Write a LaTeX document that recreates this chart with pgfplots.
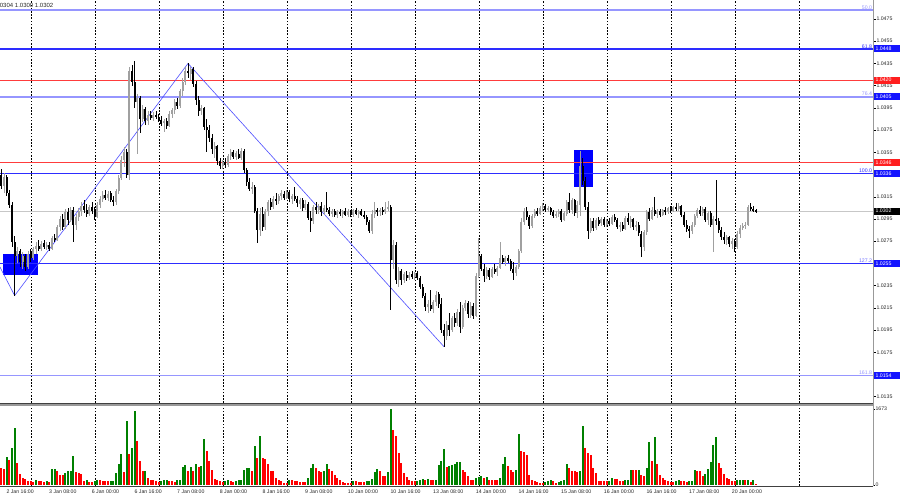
\documentclass[border=0pt]{standalone}
\usepackage{fontspec}
\setmainfont{Liberation Sans}
\usepackage{pgfplots}
\usepackage{pgfplotstable}
\pgfplotsset{compat=1.18}
\newcommand{\lab}{\fontsize{5.2}{6}\selectfont}
\definecolor{levblue}{RGB}{45,45,255}
\definecolor{fiblight}{RGB}{150,150,255}
\definecolor{lvlred}{RGB}{255,60,60}
\definecolor{bullc}{RGB}{160,160,160}
\definecolor{vgreen}{RGB}{0,128,0}
\definecolor{vred}{RGB}{255,0,0}
\definecolor{boxblue}{RGB}{20,20,255}
\definecolor{boxred}{RGB}{255,30,30}

\pgfplotstableread{
i o h l c v g
0 1.0335 1.0340 1.0322 1.0325 368 0
1 1.0325 1.0336 1.0318 1.0333 354 0
2 1.0333 1.0335 1.0316 1.0318 626 1
3 1.0318 1.0321 1.0305 1.0308 553 0
4 1.0308 1.0310 1.0270 1.0274 811 1
5 1.0274 1.0280 1.0226 1.0262 1253 1
6 1.0262 1.0270 1.0255 1.0266 479 0
7 1.0266 1.0268 1.0252 1.0256 243 0
8 1.0256 1.0265 1.0250 1.0262 147 0
9 1.0262 1.0264 1.0248 1.0252 125 0
10 1.0252 1.0266 1.0250 1.0264 88 0
11 1.0264 1.0268 1.0256 1.0260 81 0
12 1.0260 1.0270 1.0258 1.0268 59 0
13 1.0268 1.0274 1.0264 1.0271 103 1
14 1.0271 1.0276 1.0266 1.0268 96 0
15 1.0268 1.0275 1.0266 1.0273 88 0
16 1.0273 1.0276 1.0268 1.0270 74 0
17 1.0270 1.0274 1.0267 1.0272 88 1
18 1.0272 1.0274 1.0266 1.0268 74 0
19 1.0268 1.0280 1.0267 1.0278 346 1
20 1.0278 1.0282 1.0274 1.0276 350 1
21 1.0276 1.0290 1.0275 1.0288 310 0
22 1.0288 1.0298 1.0284 1.0295 221 0
23 1.0295 1.0300 1.0285 1.0288 215 0
24 1.0288 1.0304 1.0286 1.0301 273 1
25 1.0301 1.0305 1.0290 1.0294 310 1
26 1.0294 1.0306 1.0292 1.0303 315 1
27 1.0303 1.0306 1.0274 1.0290 641 1
28 1.0290 1.0300 1.0285 1.0297 295 0
29 1.0297 1.0305 1.0293 1.0302 258 0
30 1.0302 1.0310 1.0298 1.0307 250 0
31 1.0307 1.0312 1.0300 1.0303 88 0
32 1.0303 1.0309 1.0297 1.0300 103 1
33 1.0300 1.0308 1.0298 1.0306 74 0
34 1.0306 1.0310 1.0300 1.0302 70 0
35 1.0302 1.0306 1.0294 1.0297 96 1
36 1.0297 1.0310 1.0296 1.0308 103 1
37 1.0308 1.0316 1.0305 1.0313 100 0
38 1.0313 1.0320 1.0310 1.0317 96 0
39 1.0317 1.0321 1.0312 1.0314 88 0
40 1.0314 1.0320 1.0311 1.0318 81 0
41 1.0318 1.0320 1.0310 1.0312 88 1
42 1.0312 1.0316 1.0307 1.0310 92 1
43 1.0310 1.0322 1.0308 1.0320 258 1
44 1.0320 1.0335 1.0318 1.0332 457 1
45 1.0332 1.0352 1.0330 1.0348 678 1
46 1.0348 1.0360 1.0342 1.0355 295 0
47 1.0355 1.0358 1.0332 1.0335 1400 1
48 1.0335 1.0432 1.0330 1.0428 678 0
49 1.0428 1.0434 1.0415 1.0418 811 1
50 1.0418 1.0437 1.0395 1.0400 1636 1
51 1.0400 1.0408 1.0354 1.0404 958 0
52 1.0404 1.0406 1.0372 1.0385 531 0
53 1.0385 1.0398 1.0382 1.0394 310 0
54 1.0394 1.0396 1.0380 1.0383 317 1
55 1.0383 1.0392 1.0380 1.0389 147 0
56 1.0389 1.0392 1.0384 1.0386 111 0
57 1.0386 1.0391 1.0383 1.0389 108 0
58 1.0389 1.0392 1.0385 1.0387 80 0
59 1.0387 1.0390 1.0382 1.0384 74 0
60 1.0384 1.0388 1.0379 1.0381 96 1
61 1.0381 1.0385 1.0373 1.0383 103 1
62 1.0383 1.0386 1.0376 1.0379 105 1
63 1.0379 1.0392 1.0378 1.0390 88 0
64 1.0390 1.0395 1.0386 1.0393 85 0
65 1.0393 1.0403 1.0390 1.0400 74 0
66 1.0400 1.0404 1.0394 1.0397 103 1
67 1.0397 1.0412 1.0395 1.0410 108 1
68 1.0410 1.0422 1.0406 1.0418 391 1
69 1.0418 1.0432 1.0416 1.0428 435 1
70 1.0428 1.0435 1.0422 1.0426 317 0
71 1.0426 1.0432 1.0420 1.0430 391 1
72 1.0430 1.0432 1.0414 1.0417 310 0
73 1.0417 1.0419 1.0398 1.0402 464 1
74 1.0402 1.0406 1.0388 1.0392 405 0
75 1.0392 1.0398 1.0389 1.0395 413 1
76 1.0395 1.0396 1.0375 1.0378 1010 1
77 1.0378 1.0385 1.0355 1.0375 752 0
78 1.0375 1.0380 1.0364 1.0368 531 0
79 1.0368 1.0372 1.0354 1.0358 332 0
80 1.0358 1.0364 1.0350 1.0361 133 0
81 1.0361 1.0362 1.0344 1.0347 111 0
82 1.0347 1.0350 1.0340 1.0343 81 0
83 1.0343 1.0348 1.0340 1.0346 66 0
84 1.0346 1.0350 1.0341 1.0344 96 1
85 1.0344 1.0354 1.0342 1.0352 103 1
86 1.0352 1.0358 1.0348 1.0355 81 0
87 1.0355 1.0357 1.0349 1.0351 74 0
88 1.0351 1.0356 1.0348 1.0354 88 1
89 1.0354 1.0358 1.0349 1.0350 111 1
90 1.0350 1.0359 1.0348 1.0356 115 1
91 1.0356 1.0358 1.0336 1.0339 332 1
92 1.0339 1.0341 1.0325 1.0328 376 1
93 1.0328 1.0332 1.0320 1.0322 380 1
94 1.0322 1.0328 1.0318 1.0324 310 0
95 1.0324 1.0326 1.0300 1.0302 862 1
96 1.0302 1.0305 1.0273 1.0285 590 0
97 1.0285 1.0305 1.0280 1.0300 1083 1
98 1.0300 1.0306 1.0284 1.0288 590 0
99 1.0288 1.0304 1.0285 1.0302 567 0
100 1.0302 1.0312 1.0298 1.0310 457 0
101 1.0310 1.0314 1.0303 1.0306 310 0
102 1.0306 1.0316 1.0304 1.0313 300 0
103 1.0313 1.0318 1.0308 1.0311 162 0
104 1.0311 1.0318 1.0309 1.0316 111 0
105 1.0316 1.0321 1.0312 1.0318 88 0
106 1.0318 1.0320 1.0312 1.0314 52 0
107 1.0314 1.0321 1.0313 1.0319 44 0
108 1.0319 1.0321 1.0310 1.0313 111 1
109 1.0313 1.0318 1.0309 1.0316 103 0
110 1.0316 1.0324 1.0311 1.0313 88 0
111 1.0313 1.0316 1.0306 1.0309 85 0
112 1.0309 1.0314 1.0304 1.0312 74 0
113 1.0312 1.0314 1.0302 1.0305 70 0
114 1.0305 1.0312 1.0303 1.0309 66 0
115 1.0309 1.0310 1.0294 1.0296 147 1
116 1.0296 1.0302 1.0283 1.0293 383 1
117 1.0293 1.0308 1.0291 1.0306 457 1
118 1.0306 1.0310 1.0300 1.0303 383 0
119 1.0303 1.0309 1.0300 1.0307 310 0
120 1.0307 1.0310 1.0298 1.0301 295 0
121 1.0301 1.0308 1.0299 1.0305 310 1
122 1.0305 1.0319 1.0301 1.0303 457 1
123 1.0303 1.0306 1.0298 1.0300 346 0
124 1.0300 1.0304 1.0297 1.0302 310 0
125 1.0302 1.0304 1.0297 1.0299 221 0
126 1.0299 1.0303 1.0296 1.0301 162 0
127 1.0301 1.0304 1.0298 1.0300 111 0
128 1.0300 1.0303 1.0296 1.0302 66 0
129 1.0302 1.0305 1.0298 1.0299 52 0
130 1.0299 1.0304 1.0297 1.0302 50 0
131 1.0302 1.0303 1.0297 1.0299 48 0
132 1.0299 1.0304 1.0297 1.0303 96 1
133 1.0303 1.0305 1.0299 1.0300 81 0
134 1.0300 1.0303 1.0296 1.0302 74 0
135 1.0302 1.0304 1.0298 1.0299 72 0
136 1.0299 1.0302 1.0295 1.0297 70 0
137 1.0297 1.0299 1.0290 1.0292 88 1
138 1.0292 1.0294 1.0282 1.0284 96 1
139 1.0284 1.0303 1.0282 1.0300 125 1
140 1.0300 1.0310 1.0296 1.0303 280 1
141 1.0303 1.0305 1.0298 1.0301 354 1
142 1.0301 1.0305 1.0298 1.0303 310 0
143 1.0303 1.0306 1.0299 1.0301 199 0
144 1.0301 1.0310 1.0300 1.0304 195 0
145 1.0304 1.0311 1.0302 1.0306 280 1
146 1.0306 1.0308 1.0213 1.0258 1673 1
147 1.0258 1.0276 1.0250 1.0272 1216 0
148 1.0272 1.0274 1.0236 1.0240 1069 0
149 1.0240 1.0252 1.0234 1.0248 700 0
150 1.0248 1.0250 1.0236 1.0240 494 0
151 1.0240 1.0247 1.0237 1.0245 273 0
152 1.0245 1.0248 1.0239 1.0242 170 0
153 1.0242 1.0247 1.0240 1.0245 111 0
154 1.0245 1.0248 1.0241 1.0243 88 0
155 1.0243 1.0247 1.0240 1.0246 85 0
156 1.0246 1.0248 1.0240 1.0242 96 1
157 1.0242 1.0244 1.0232 1.0234 103 1
158 1.0234 1.0236 1.0224 1.0226 125 1
159 1.0226 1.0228 1.0212 1.0216 111 0
160 1.0216 1.0222 1.0210 1.0218 125 1
161 1.0218 1.0231 1.0212 1.0214 111 0
162 1.0214 1.0222 1.0210 1.0220 108 0
163 1.0220 1.0230 1.0217 1.0227 115 1
164 1.0227 1.0229 1.0215 1.0218 442 1
165 1.0218 1.0224 1.0192 1.0195 538 1
166 1.0195 1.0200 1.0180 1.0190 789 1
167 1.0190 1.0203 1.0186 1.0200 405 0
168 1.0200 1.0210 1.0190 1.0195 420 1
169 1.0195 1.0208 1.0193 1.0206 435 1
170 1.0206 1.0210 1.0198 1.0201 457 1
171 1.0201 1.0214 1.0199 1.0211 509 1
172 1.0211 1.0220 1.0192 1.0198 515 1
173 1.0198 1.0218 1.0196 1.0215 332 0
174 1.0215 1.0222 1.0212 1.0219 295 0
175 1.0219 1.0221 1.0206 1.0209 199 0
176 1.0209 1.0220 1.0206 1.0217 103 0
177 1.0217 1.0219 1.0205 1.0208 100 0
178 1.0208 1.0246 1.0207 1.0244 162 1
179 1.0244 1.0278 1.0242 1.0262 170 1
180 1.0262 1.0264 1.0248 1.0250 199 1
181 1.0250 1.0254 1.0238 1.0244 147 0
182 1.0244 1.0252 1.0241 1.0249 184 1
183 1.0249 1.0251 1.0240 1.0243 111 0
184 1.0243 1.0252 1.0242 1.0250 108 0
185 1.0250 1.0254 1.0245 1.0247 105 0
186 1.0247 1.0253 1.0244 1.0251 102 0
187 1.0251 1.0274 1.0250 1.0260 147 1
188 1.0260 1.0263 1.0254 1.0256 464 1
189 1.0256 1.0262 1.0253 1.0260 612 1
190 1.0260 1.0263 1.0255 1.0257 420 0
191 1.0257 1.0259 1.0248 1.0250 332 0
192 1.0250 1.0256 1.0240 1.0246 295 0
193 1.0246 1.0254 1.0244 1.0252 332 1
194 1.0252 1.0268 1.0250 1.0266 1120 1
195 1.0266 1.0296 1.0264 1.0292 752 0
196 1.0292 1.0305 1.0290 1.0302 737 0
197 1.0302 1.0306 1.0294 1.0297 663 0
198 1.0297 1.0299 1.0286 1.0289 221 0
199 1.0289 1.0300 1.0287 1.0298 111 0
200 1.0298 1.0304 1.0296 1.0302 88 0
201 1.0302 1.0305 1.0298 1.0300 74 0
202 1.0300 1.0307 1.0299 1.0305 52 0
203 1.0305 1.0309 1.0302 1.0307 37 0
204 1.0307 1.0309 1.0301 1.0303 74 1
205 1.0303 1.0307 1.0301 1.0305 88 1
206 1.0305 1.0306 1.0299 1.0301 111 1
207 1.0301 1.0303 1.0296 1.0298 88 0
208 1.0298 1.0302 1.0296 1.0300 52 0
209 1.0300 1.0304 1.0297 1.0302 74 1
210 1.0302 1.0304 1.0292 1.0294 96 1
211 1.0294 1.0302 1.0293 1.0300 111 1
212 1.0300 1.0312 1.0298 1.0310 464 1
213 1.0310 1.0318 1.0300 1.0303 383 0
214 1.0303 1.0314 1.0300 1.0312 317 0
215 1.0312 1.0313 1.0298 1.0300 310 0
216 1.0300 1.0311 1.0296 1.0308 295 0
217 1.0308 1.0356 1.0298 1.0343 300 1
218 1.0343 1.0350 1.0326 1.0329 1304 1
219 1.0329 1.0333 1.0303 1.0306 811 0
220 1.0306 1.0310 1.0277 1.0284 715 0
221 1.0284 1.0296 1.0282 1.0293 663 0
222 1.0293 1.0296 1.0284 1.0287 368 0
223 1.0287 1.0296 1.0285 1.0294 258 0
224 1.0294 1.0297 1.0289 1.0291 88 0
225 1.0291 1.0297 1.0289 1.0295 85 0
226 1.0295 1.0297 1.0288 1.0290 82 0
227 1.0290 1.0295 1.0288 1.0293 80 0
228 1.0293 1.0296 1.0289 1.0291 88 1
229 1.0291 1.0299 1.0290 1.0297 147 1
230 1.0297 1.0300 1.0292 1.0294 133 0
231 1.0294 1.0296 1.0286 1.0288 125 0
232 1.0288 1.0292 1.0283 1.0290 96 0
233 1.0290 1.0292 1.0284 1.0286 94 0
234 1.0286 1.0298 1.0285 1.0296 111 1
235 1.0296 1.0300 1.0290 1.0292 113 1
236 1.0292 1.0298 1.0287 1.0295 332 1
237 1.0295 1.0296 1.0285 1.0288 330 0
238 1.0288 1.0293 1.0284 1.0290 328 0
239 1.0290 1.0292 1.0280 1.0282 335 1
240 1.0282 1.0284 1.0261 1.0270 221 0
241 1.0270 1.0285 1.0266 1.0283 199 0
242 1.0283 1.0303 1.0281 1.0301 368 1
243 1.0301 1.0305 1.0293 1.0295 943 1
244 1.0295 1.0306 1.0294 1.0303 531 0
245 1.0303 1.0315 1.0298 1.0300 1047 1
246 1.0300 1.0304 1.0296 1.0302 457 0
247 1.0302 1.0304 1.0297 1.0299 221 0
248 1.0299 1.0304 1.0298 1.0303 147 0
249 1.0303 1.0306 1.0299 1.0301 111 0
250 1.0301 1.0306 1.0300 1.0305 88 0
251 1.0305 1.0307 1.0300 1.0302 74 0
252 1.0302 1.0307 1.0301 1.0306 72 0
253 1.0306 1.0309 1.0302 1.0304 96 1
254 1.0304 1.0309 1.0302 1.0307 111 1
255 1.0307 1.0308 1.0297 1.0299 96 0
256 1.0299 1.0301 1.0288 1.0290 88 0
257 1.0290 1.0294 1.0283 1.0286 74 0
258 1.0286 1.0289 1.0278 1.0284 88 1
259 1.0284 1.0292 1.0282 1.0290 90 1
260 1.0290 1.0300 1.0288 1.0298 332 1
261 1.0298 1.0305 1.0296 1.0303 317 0
262 1.0303 1.0307 1.0298 1.0300 315 0
263 1.0300 1.0306 1.0298 1.0304 199 0
264 1.0304 1.0306 1.0292 1.0294 243 1
265 1.0294 1.0302 1.0290 1.0300 346 1
266 1.0300 1.0302 1.0288 1.0290 516 1
267 1.0290 1.0298 1.0265 1.0295 884 1
268 1.0295 1.0330 1.0290 1.0293 1047 1
269 1.0293 1.0296 1.0282 1.0285 494 0
270 1.0285 1.0288 1.0276 1.0279 383 0
271 1.0279 1.0283 1.0273 1.0276 243 0
272 1.0276 1.0281 1.0272 1.0279 147 0
273 1.0279 1.0280 1.0270 1.0273 125 0
274 1.0273 1.0278 1.0268 1.0275 88 0
275 1.0275 1.0277 1.0265 1.0270 86 0
276 1.0270 1.0284 1.0268 1.0282 103 1
277 1.0282 1.0290 1.0278 1.0287 111 1
278 1.0287 1.0291 1.0285 1.0289 113 1
279 1.0289 1.0292 1.0286 1.0290 103 0
280 1.0290 1.0308 1.0289 1.0306 111 1
281 1.0306 1.0309 1.0302 1.0304 74 0
282 1.0304 1.0307 1.0301 1.0303 111 1
283 1.0303 1.0304 1.0300 1.0302 22 0
}\data

\begin{document}
\begin{tikzpicture}[x=1pt,y=1pt]
% ---------------- main price panel ----------------
\begin{scope}[yshift=97pt]
\begin{axis}[
  at={(0,0)}, anchor=south west, scale only axis,
  width=873pt, height=403pt,
  xmin=-0.5, xmax=326.875, ymin=1.012933, ymax=1.049210,
  axis line style={draw=none},
  xtick={11.125,35.125,59.125,83.125,107.125,131.125,155.125,179.125,203.125,227.125,251.125,275.125,299.125},
  xticklabels={}, xtick style={draw=none},
  xmajorgrids,
  major grid style={black, line width=0.45pt, dash pattern=on 1.6pt off 1.6pt},
  ytick={1.0135,1.0155,1.0175,1.0195,1.0215,1.0235,1.0255,1.0275,1.0295,1.0315,1.0335,1.0355,1.0375,1.0395,1.0415,1.0435,1.0455,1.0475},
  yticklabels={1.0135,1.0155,1.0175,1.0195,1.0215,1.0235,1.0255,1.0275,1.0295,1.0315,1.0335,1.0355,1.0375,1.0395,1.0415,1.0435,1.0455,1.0475},
  ytick pos=right, yticklabel pos=right,
  tick align=outside, major tick length=2.5pt,
  ytick style={black, line width=0.4pt},
  yticklabel style={font=\lab, inner sep=0.8pt, text=black!85},
  scaled y ticks=false,
]
% blue rectangles
\addplot[fill=blue, draw=none, forget plot] coordinates {(0.75,1.02446) (13.9,1.02446) (13.9,1.02635) (0.75,1.02635)} -- cycle;
\addplot[fill=blue, draw=none, forget plot] coordinates {(214.75,1.0324) (221.75,1.0324) (221.75,1.0357) (214.75,1.0357)} -- cycle;
% horizontal levels
\addplot[draw=fiblight, line width=1.6pt, forget plot] coordinates {(-0.5,1.0483) (326.875,1.0483)};
\addplot[draw=levblue, line width=1.1pt, forget plot] coordinates {(-0.5,1.0448) (326.875,1.0448)};
\addplot[draw=lvlred, line width=0.9pt, forget plot] coordinates {(-0.5,1.0420) (326.875,1.0420)};
\addplot[draw=fiblight, line width=1.6pt, forget plot] coordinates {(-0.5,1.0405) (326.875,1.0405)};
\addplot[draw=lvlred, line width=0.9pt, forget plot] coordinates {(-0.5,1.0346) (326.875,1.0346)};
\addplot[draw=levblue, line width=1.1pt, forget plot] coordinates {(-0.5,1.0336) (326.875,1.0336)};
\addplot[draw=black!22, line width=0.8pt, forget plot] coordinates {(-0.5,1.0302) (326.875,1.0302)};
\addplot[draw=levblue, line width=1.1pt, forget plot] coordinates {(-0.5,1.0255) (326.875,1.0255)};
\addplot[draw=fiblight, line width=1.6pt, forget plot] coordinates {(-0.5,1.0154) (326.875,1.0154)};
% zigzag
\addplot[draw=levblue!85, line width=0.6pt, forget plot] coordinates {(-0.5,1.02517) (5,1.0226) (70,1.0435) (166,1.0180)};
% candles: bull (grey)
\addplot[draw=none, mark=none, forget plot,
  restrict expr to domain={\thisrow{c}-\thisrow{o}}{0:1},
  error bars/.cd, y dir=both, y explicit, error mark=none,
  error bar style={draw=bullc, line width=0.8pt}]
  table[x=i, y expr={(\thisrow{h}+\thisrow{l})/2}, y error expr={(\thisrow{h}-\thisrow{l})/2}] \data;
\addplot[draw=none, mark=none, forget plot,
  restrict expr to domain={\thisrow{c}-\thisrow{o}}{0:1},
  error bars/.cd, y dir=both, y explicit, error mark=none,
  error bar style={draw=bullc, line width=2pt}]
  table[x=i, y expr={(\thisrow{o}+\thisrow{c})/2}, y error expr={abs(\thisrow{c}-\thisrow{o})/2}] \data;
% candles: bear (black)
\addplot[draw=none, mark=none, forget plot,
  restrict expr to domain={\thisrow{o}-\thisrow{c}}{0.00001:1},
  error bars/.cd, y dir=both, y explicit, error mark=none,
  error bar style={draw=black, line width=0.8pt}]
  table[x=i, y expr={(\thisrow{h}+\thisrow{l})/2}, y error expr={(\thisrow{h}-\thisrow{l})/2}] \data;
\addplot[draw=none, mark=none, forget plot,
  restrict expr to domain={\thisrow{o}-\thisrow{c}}{0.00001:1},
  error bars/.cd, y dir=both, y explicit, error mark=none,
  error bar style={draw=black, line width=2pt}]
  table[x=i, y expr={(\thisrow{o}+\thisrow{c})/2}, y error expr={abs(\thisrow{c}-\thisrow{o})/2}] \data;
% fib labels
\node[anchor=south east, inner sep=0.7pt, text=fiblight, font=\lab] at (axis cs:326.875,1.0483) {50.0};
\node[anchor=south east, inner sep=0.7pt, text=levblue, font=\lab] at (axis cs:326.875,1.0448) {61.8};
\node[anchor=south east, inner sep=0.7pt, text=fiblight, font=\lab] at (axis cs:326.875,1.0405) {76.4};
\node[anchor=south east, inner sep=0.7pt, text=levblue, font=\lab] at (axis cs:326.875,1.0336) {100.0};
\node[anchor=south east, inner sep=0.7pt, text=levblue!70, font=\lab] at (axis cs:326.875,1.0255) {127.2};
\node[anchor=south east, inner sep=0.7pt, text=fiblight, font=\lab] at (axis cs:326.875,1.0154) {161.8};
\coordinate (b1) at (axis cs:326.875,1.0448);
\coordinate (b2) at (axis cs:326.875,1.0420);
\coordinate (b3) at (axis cs:326.875,1.0405);
\coordinate (b4) at (axis cs:326.875,1.0346);
\coordinate (b5) at (axis cs:326.875,1.0336);
\coordinate (b6) at (axis cs:326.875,1.0302);
\coordinate (b7) at (axis cs:326.875,1.0255);
\coordinate (b8) at (axis cs:326.875,1.0154);
\end{axis}
\end{scope}
% ---------------- volume panel ----------------
\begin{scope}[yshift=14pt]
\begin{axis}[
  at={(0,0)}, anchor=south west, scale only axis,
  width=873pt, height=82pt,
  xmin=-0.5, xmax=326.875, ymin=-22, ymax=1783,
  axis line style={draw=none},
  xtick={2,18,34,50,66,82,98,114,130,146,162,178,194,210,226,242,258,274},
  xticklabels={2 Jan 16:00,3 Jan 08:00,6 Jan 00:00,6 Jan 16:00,7 Jan 08:00,8 Jan 00:00,8 Jan 16:00,9 Jan 08:00,10 Jan 00:00,10 Jan 16:00,13 Jan 08:00,14 Jan 00:00,14 Jan 16:00,15 Jan 08:00,16 Jan 00:00,16 Jan 16:00,17 Jan 08:00,20 Jan 00:00},
  xtick style={draw=none},
  xticklabel style={anchor=north west, font=\lab, inner sep=0pt, yshift=-2pt, xshift=-0.3pt, text=black!85},
  extra x ticks={11.125,35.125,59.125,83.125,107.125,131.125,155.125,179.125,203.125,227.125,251.125,275.125,299.125},
  extra x tick labels={},
  extra x tick style={grid=major},
  major grid style={black, line width=0.45pt, dash pattern=on 1.6pt off 1.6pt},
  ytick={0,1673}, yticklabels={0,1673},
  ytick pos=right, yticklabel pos=right,
  tick align=outside, major tick length=1.5pt,
  ytick style={black, line width=0.4pt},
  yticklabel style={font=\lab, inner sep=0.8pt, text=black!85},
]
\addplot[ycomb, draw=vgreen, line width=2.1pt, forget plot,
  restrict expr to domain={\thisrow{g}}{0.5:1.5}] table[x=i, y=v] \data;
\addplot[ycomb, draw=vred, line width=2.1pt, forget plot,
  restrict expr to domain={\thisrow{g}}{-0.5:0.5}] table[x=i, y=v] \data;
\end{axis}
\end{scope}
% ---------------- frames and separators ----------------
\fill[black!40] (0,94.2) rectangle (873,96.6);
\draw[black!75, line width=0.9pt] (0,97.0) -- (873,97.0);
\draw[black!75, line width=0.9pt] (0,14) -- (873,14);
\draw[black!40, line width=1.3pt] (873.3,13.6) -- (873.3,500);
% price boxes on the right scale
\begin{scope}[every node/.style={anchor=west, font=\lab, text=white, inner ysep=0.6pt, inner xsep=1.6pt, minimum height=7pt, text width=22.5pt, align=left}]
\node[fill=boxblue] at ([xshift=0.8pt]b1) {1.0448};
\node[fill=boxred] at ([xshift=0.8pt]b2) {1.0420};
\node[fill=boxblue] at ([xshift=0.8pt]b3) {1.0405};
\node[fill=boxred] at ([xshift=0.8pt]b4) {1.0346};
\node[fill=boxblue] at ([xshift=0.8pt]b5) {1.0336};
\node[fill=black] at ([xshift=0.8pt]b6) {1.0302};
\node[fill=boxblue] at ([xshift=0.8pt]b7) {1.0255};
\node[fill=boxblue] at ([xshift=0.8pt]b8) {1.0154};
\end{scope}
% top-left info text
\node[anchor=north east, inner sep=0pt, font=\fontsize{6}{7}\selectfont, text=black!85] at (53.5,496.5) {EURUSD,H1 1.0303 1.0304 1.0300 1.0302};
% fix the picture to the 900 x 500 frame
\pgfresetboundingbox
\useasboundingbox (0,0) rectangle (900,500);
\end{tikzpicture}
\end{document}
